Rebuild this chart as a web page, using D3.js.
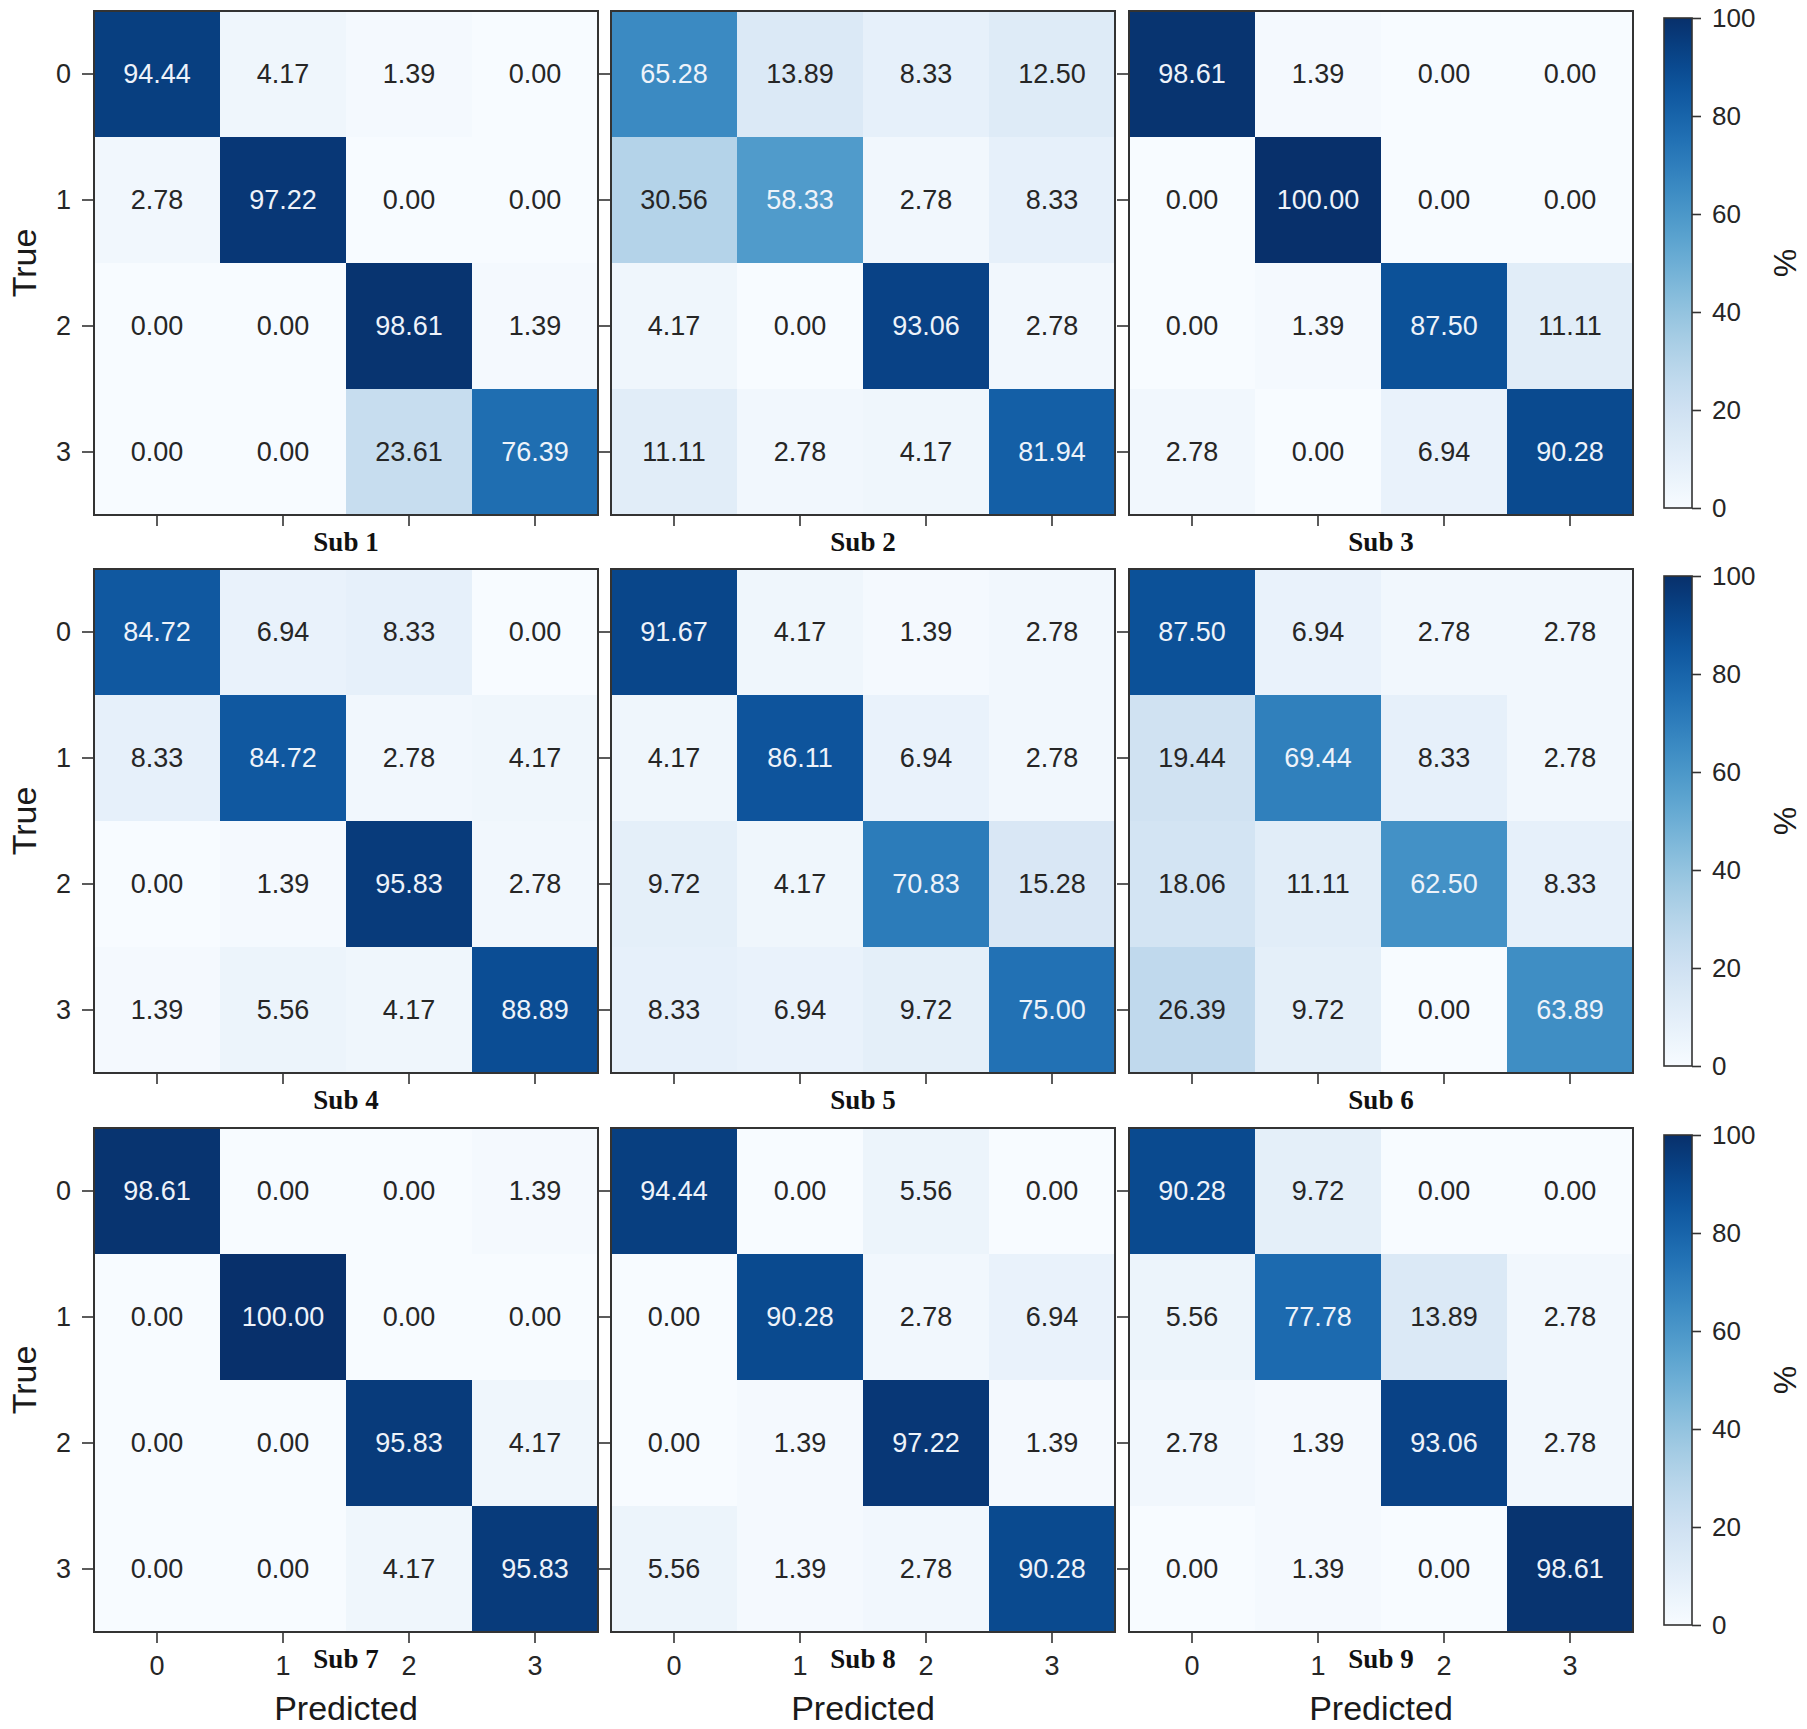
<!DOCTYPE html>
<html>
<head>
<meta charset="utf-8">
<script src="https://cdn.jsdelivr.net/npm/d3@7"></script>
<style>
  html, body { margin: 0; padding: 0; background: #ffffff; }
  svg { display: block; }
</style>
</head>
<body>
<svg id="chart" width="1807" height="1729"></svg>
<script>
// ---------- DATA ----------
const classes = ["0", "1", "2", "3"];
const subjectNames = ["Sub 1", "Sub 2", "Sub 3", "Sub 4", "Sub 5", "Sub 6", "Sub 7", "Sub 8", "Sub 9"];
const sub1 = [[94.44, 4.17, 1.39, 0.00], [2.78, 97.22, 0.00, 0.00], [0.00, 0.00, 98.61, 1.39], [0.00, 0.00, 23.61, 76.39]];
const sub2 = [[65.28, 13.89, 8.33, 12.50], [30.56, 58.33, 2.78, 8.33], [4.17, 0.00, 93.06, 2.78], [11.11, 2.78, 4.17, 81.94]];
const sub3 = [[98.61, 1.39, 0.00, 0.00], [0.00, 100.00, 0.00, 0.00], [0.00, 1.39, 87.50, 11.11], [2.78, 0.00, 6.94, 90.28]];
const sub4 = [[84.72, 6.94, 8.33, 0.00], [8.33, 84.72, 2.78, 4.17], [0.00, 1.39, 95.83, 2.78], [1.39, 5.56, 4.17, 88.89]];
const sub5 = [[91.67, 4.17, 1.39, 2.78], [4.17, 86.11, 6.94, 2.78], [9.72, 4.17, 70.83, 15.28], [8.33, 6.94, 9.72, 75.00]];
const sub6 = [[87.50, 6.94, 2.78, 2.78], [19.44, 69.44, 8.33, 2.78], [18.06, 11.11, 62.50, 8.33], [26.39, 9.72, 0.00, 63.89]];
const sub7 = [[98.61, 0.00, 0.00, 1.39], [0.00, 100.00, 0.00, 0.00], [0.00, 0.00, 95.83, 4.17], [0.00, 0.00, 4.17, 95.83]];
const sub8 = [[94.44, 0.00, 5.56, 0.00], [0.00, 90.28, 2.78, 6.94], [0.00, 1.39, 97.22, 1.39], [5.56, 1.39, 2.78, 90.28]];
const sub9 = [[90.28, 9.72, 0.00, 0.00], [5.56, 77.78, 13.89, 2.78], [2.78, 1.39, 93.06, 2.78], [0.00, 1.39, 0.00, 98.61]];
const colorbarTicks = [0, 20, 40, 60, 80, 100];
const matrices = [sub1, sub2, sub3, sub4, sub5, sub6, sub7, sub8, sub9];

// ---------- LAYOUT ----------
const colX = [94, 611, 1129];
const rowY = [11, 569, 1128];
const size = 504;
const cbX = 1664, cbW = 28, cbInset = 7;
const axisColor = "#333333";
const sans = "'Liberation Sans', Arial, Helvetica, sans-serif";
const serif = "'Liberation Serif', 'Times New Roman', serif";

const svg = d3.select("#chart");
const color = d3.scaleSequential(d3.interpolateBlues).domain([0, 100]);

const x = d3.scaleBand().domain(classes).range([0, size]);
const y = d3.scaleBand().domain(classes).range([0, size]);

matrices.forEach((m, idx) => {
  const r = Math.floor(idx / 3), c = idx % 3;
  const g = svg.append("g").attr("transform", `translate(${colX[c]},${rowY[r]})`);
  const cells = [];
  m.forEach((row, i) => row.forEach((v, j) => cells.push({ i, j, v })));

  g.selectAll("rect.cell").data(cells).enter().append("rect")
    .attr("class", "cell")
    .attr("x", d => x(classes[d.j]))
    .attr("y", d => y(classes[d.i]))
    .attr("width", x.bandwidth() + 0.5)
    .attr("height", y.bandwidth() + 0.5)
    .attr("fill", d => color(d.v));

  g.selectAll("text.val").data(cells).enter().append("text")
    .attr("class", "val")
    .attr("x", d => x(classes[d.j]) + x.bandwidth() / 2)
    .attr("y", d => y(classes[d.i]) + y.bandwidth() / 2)
    .attr("text-anchor", "middle")
    .attr("dominant-baseline", "central")
    .attr("font-family", sans)
    .attr("font-size", 27)
    .attr("fill", d => d.v > 50 ? "#eef3fa" : "#262626")
    .text(d => d.v.toFixed(2));

  // frame
  g.append("rect").attr("x", 0).attr("y", 0).attr("width", size).attr("height", size)
    .attr("fill", "none").attr("stroke", axisColor).attr("stroke-width", 2);

  // y axis
  const yAxis = d3.axisLeft(y).tickSize(12).tickPadding(11)
    .tickFormat(c === 0 ? (d => d) : () => "");
  const ya = g.append("g").call(yAxis);
  ya.select(".domain").remove();
  ya.selectAll("line").attr("stroke", axisColor).attr("stroke-width", 1.6);
  ya.selectAll("text").style("font-family", sans).style("font-size", "27px").attr("fill", "#262626");

  // x axis
  const xAxis = d3.axisBottom(x).tickSize(11).tickPadding(13)
    .tickFormat(r === 2 ? (d => d) : () => "");
  const xa = g.append("g").attr("transform", `translate(0,${size})`).call(xAxis);
  xa.select(".domain").remove();
  xa.selectAll("line").attr("stroke", axisColor).attr("stroke-width", 1.6);
  xa.selectAll("text").style("font-family", sans).style("font-size", "27px").attr("fill", "#262626");

  // subject title
  g.append("text")
    .attr("x", size / 2)
    .attr("y", size + 27)
    .attr("text-anchor", "middle")
    .attr("dominant-baseline", "central")
    .attr("font-family", serif)
    .attr("font-weight", "bold")
    .attr("font-size", 27)
    .attr("fill", "#111")
    .text(subjectNames[idx]);

  if (c === 0) {
    g.append("text")
      .attr("transform", `translate(${24 - colX[0]},${size / 2}) rotate(-90)`)
      .attr("text-anchor", "middle")
      .attr("dominant-baseline", "central")
      .attr("font-family", sans)
      .attr("font-size", 34)
      .attr("fill", "#1a1a1a")
      .text("True");
  }
  if (r === 2) {
    g.append("text")
      .attr("x", size / 2)
      .attr("y", size + 76)
      .attr("text-anchor", "middle")
      .attr("dominant-baseline", "central")
      .attr("font-family", sans)
      .attr("font-size", 34)
      .attr("fill", "#1a1a1a")
      .text("Predicted");
  }
});

// ---------- COLORBARS ----------
const defs = svg.append("defs");
const grad = defs.append("linearGradient").attr("id", "cbgrad")
  .attr("x1", "0").attr("y1", "1").attr("x2", "0").attr("y2", "0");
d3.range(0, 1.0001, 0.05).forEach(t => {
  grad.append("stop").attr("offset", t).attr("stop-color", d3.interpolateBlues(t));
});

rowY.forEach(ry => {
  const top = ry + cbInset, h = size - 2 * cbInset;
  const cs = d3.scaleLinear().domain([0, 100]).range([h, 0]);
  const g = svg.append("g").attr("transform", `translate(${cbX},${top})`);
  g.append("rect").attr("width", cbW).attr("height", h).attr("fill", "url(#cbgrad)")
    .attr("stroke", axisColor).attr("stroke-width", 1.6);
  const ax = g.append("g").attr("transform", `translate(${cbW},0)`)
    .call(d3.axisRight(cs).tickValues(colorbarTicks).tickSize(9).tickPadding(11));
  ax.select(".domain").remove();
  ax.selectAll("line").attr("stroke", axisColor).attr("stroke-width", 1.6);
  ax.selectAll("text").style("font-family", sans).style("font-size", "26px").attr("fill", "#262626");
  g.append("text")
    .attr("transform", `translate(${1785 - cbX},${h / 2}) rotate(90)`)
    .attr("text-anchor", "middle")
    .attr("dominant-baseline", "central")
    .attr("font-family", sans)
    .attr("font-size", 32)
    .attr("fill", "#1a1a1a")
    .text("%");
});
</script>
</body>
</html>
